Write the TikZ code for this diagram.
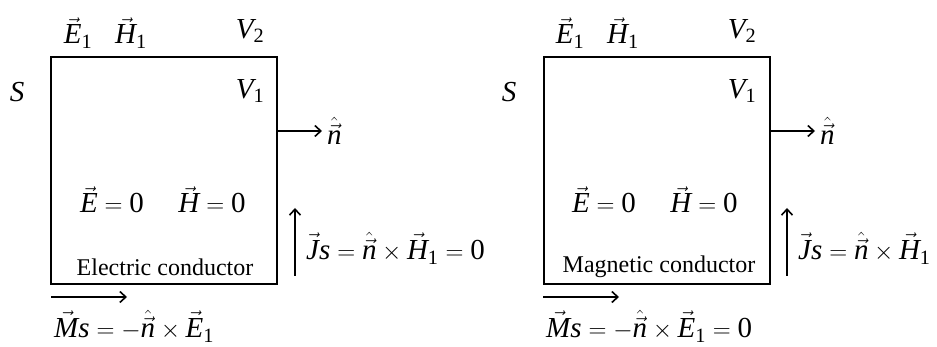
\documentclass[tikz,border=0pt]{standalone}
\usepackage{amsmath}
\usepackage{fontspec}
\setmainfont{Liberation Serif}
\usetikzlibrary{arrows.meta,positioning,calc}
\newcommand{\nhat}{\hat{\vec{\mathit{n}}}}
\newcommand{\vv}[1]{\vec{\mathit{#1}}}
\newcommand{\one}{_{\mathrm{1}}}
\newcommand{\zero}{\mathrm{0}}

\begin{document}
\begin{tikzpicture}[x=1pt, y=1pt,
    condbox/.style={rectangle, draw, line width=2pt, minimum width=226pt,
        minimum height=227pt, inner sep=0pt},
    eqlabel/.style={font=\fontsize{29}{34}\selectfont, inner sep=1pt},
    boxtext/.style={font=\fontsize{24}{28}\selectfont, inner sep=1pt},
    arr/.style={-{Straight Barb[length=6pt, width=11pt, line width=1.6pt]}, line width=1.8pt}
]
    \useasboundingbox (0,0) rectangle (937,347);

    % electric conductor
    \node[condbox] (box1) at (164,176.5) {};
    \node[eqlabel] (e1a) at (78,314) {$\vv{E}\one$};
    \node[eqlabel] (h1a) at (131,314) {$\vv{H}\one$};
    \node[eqlabel] (v2a) at (250,316) {$\mathit{V}_{\mathrm{2}}$};
    \node[eqlabel] (sa) at (17,255) {$\mathit{S}$};
    \node[eqlabel] (v1a) at (250,256) {$\mathit{V}\one$};
    \node[eqlabel, anchor=west] (nhat1) at (326,216) {$\nhat$};
    \node[eqlabel] (ezero1) at (112,147) {$\vv{E}=\zero$};
    \node[eqlabel] (hzero1) at (212,147) {$\vv{H}=\zero$};
    \node[boxtext] (cond1) at (165,80) {Electric conductor};
    \node[eqlabel, anchor=west] (js1) at (305,99) {$\vv{J}\mathit{s}=\nhat\times\vv{H}\one=\zero$};
    \node[eqlabel, anchor=west] (ms1) at (53,21) {$\vv{M}\mathit{s}=-\nhat\times\vv{E}\one$};
    \coordinate (jtail1) at (295,71);
    \coordinate (jhead1) at (295,139);
    \coordinate (mtail1) at (51,50);
    \coordinate (mhead1) at (127,50);

    \draw[arr, shorten >=4pt] (box1.east |- nhat1.west) -- (nhat1.west);
    \draw[arr] (jtail1) -- (jhead1);
    \draw[arr] (mtail1) -- (mhead1);

    % magnetic conductor
    \node[condbox] (box2) at (657,176.5) {};
    \node[eqlabel] (e1b) at (570,314) {$\vv{E}\one$};
    \node[eqlabel] (h1b) at (623,314) {$\vv{H}\one$};
    \node[eqlabel] (v2b) at (742,316) {$\mathit{V}_{\mathrm{2}}$};
    \node[eqlabel] (sb) at (509,255) {$\mathit{S}$};
    \node[eqlabel] (v1b) at (742,256) {$\mathit{V}\one$};
    \node[eqlabel, anchor=west] (nhat2) at (819,216) {$\nhat$};
    \node[eqlabel] (ezero2) at (604,147) {$\vv{E}=\zero$};
    \node[eqlabel] (hzero2) at (704,147) {$\vv{H}=\zero$};
    \node[boxtext] (cond2) at (659,80) {Magnetic conductor};
    \node[eqlabel, anchor=west] (js2) at (797,99) {$\vv{J}\mathit{s}=\nhat\times\vv{H}\one$};
    \node[eqlabel, anchor=west] (ms2) at (545,21) {$\vv{M}\mathit{s}=-\nhat\times\vv{E}\one=\zero$};
    \coordinate (jtail2) at (787,71);
    \coordinate (jhead2) at (787,139);
    \coordinate (mtail2) at (543,50);
    \coordinate (mhead2) at (619,50);

    \draw[arr, shorten >=4pt] (box2.east |- nhat2.west) -- (nhat2.west);
    \draw[arr] (jtail2) -- (jhead2);
    \draw[arr] (mtail2) -- (mhead2);
\end{tikzpicture}
\end{document}
